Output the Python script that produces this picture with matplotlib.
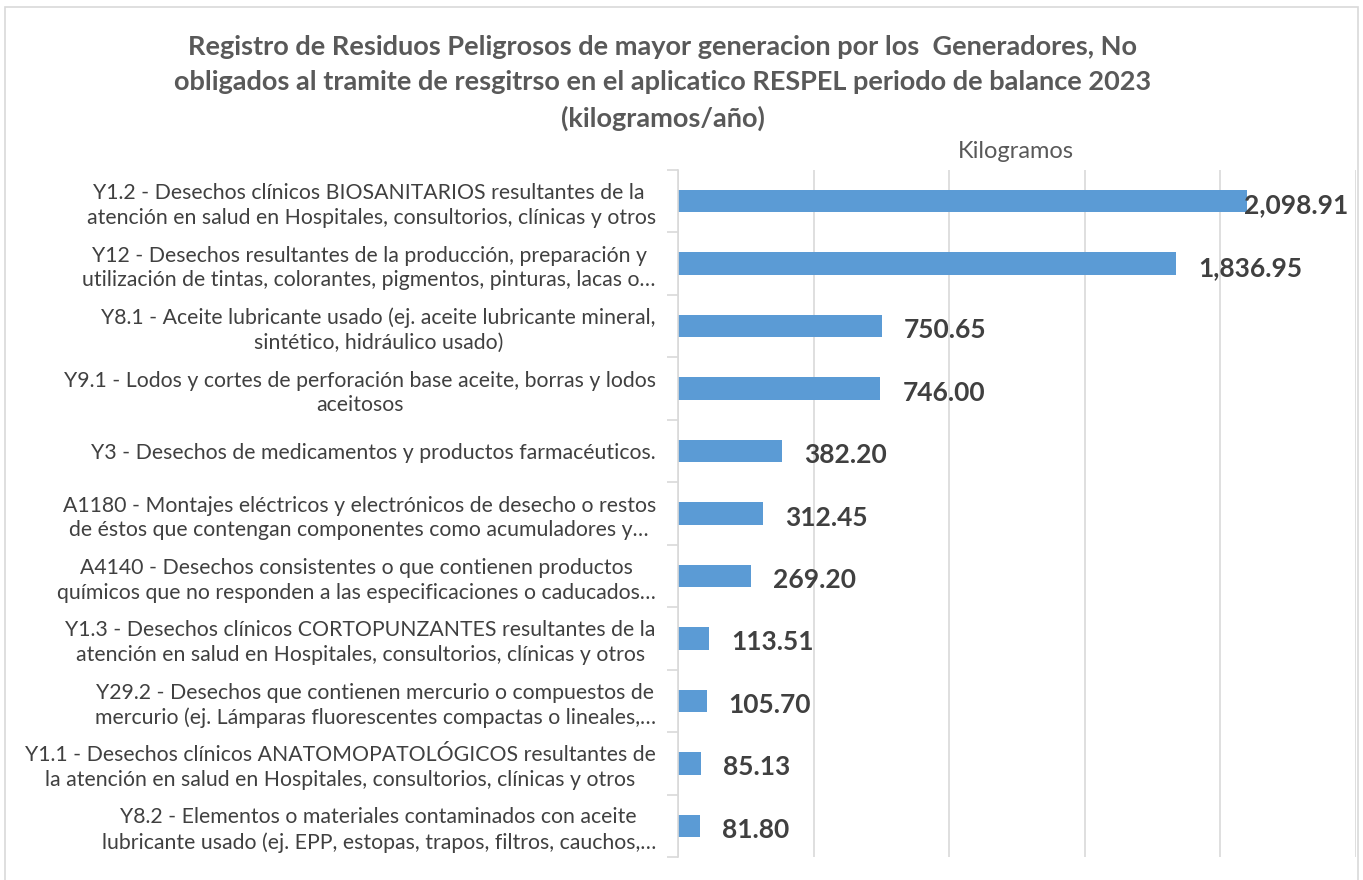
import matplotlib.pyplot as plt
from matplotlib.patches import Rectangle

# data (top to bottom)
categories = [
    "Y1.2 - Desechos clínicos BIOSANITARIOS resultantes de la \natención en salud en Hospitales, consultorios, clínicas y otros",
    "Y12 - Desechos resultantes de la producción, preparación y\nutilización de tintas, colorantes, pigmentos, pinturas, lacas o…",
    "Y8.1 - Aceite lubricante usado (ej. aceite lubricante mineral,\nsintético, hidráulico usado)",
    "Y9.1 - Lodos y cortes de perforación base aceite, borras y lodos\naceitosos",
    "Y3 - Desechos de medicamentos y productos farmacéuticos.",
    "A1180 - Montajes eléctricos y electrónicos de desecho o restos\nde éstos que contengan componentes como acumuladores y…",
    "A4140 - Desechos consistentes o que contienen productos\nquímicos que no responden a las especificaciones o caducados…",
    "Y1.3 - Desechos clínicos CORTOPUNZANTES resultantes de la\natención en salud en Hospitales, consultorios, clínicas y otros",
    "Y29.2 - Desechos que contienen mercurio o compuestos de\nmercurio (ej. Lámparas fluorescentes compactas o lineales,…",
    "Y1.1 - Desechos clínicos ANATOMOPATOLÓGICOS resultantes de\nla atención en salud en Hospitales, consultorios, clínicas y otros",
    "Y8.2 - Elementos o materiales contaminados con aceite\nlubricante usado (ej. EPP, estopas, trapos, filtros, cauchos,…",
]
kilogramos = [2098.91, 1836.95, 750.65, 746.00, 382.20, 312.45, 269.20, 113.51, 105.70, 85.13, 81.80]

title_lines = [
    "Registro de Residuos Peligrosos de mayor generacion por los  Generadores, No",
    "obligados al tramite de resgitrso en el aplicatico RESPEL periodo de balance 2023",
    "(kilogramos/año)",
]

plt.rcParams['font.family'] = ['Lato', 'DejaVu Sans']

W, H = 1363, 880
fig = plt.figure(figsize=(W / 100, H / 100), dpi=100)

# chart border like the Excel chart area
fig.patches.append(Rectangle((5 / W, -0.05), 1353 / W, 1 - 7 / H + 0.05,
                             transform=fig.transFigure, fill=False,
                             edgecolor='#D9D9D9', linewidth=1.2))

ax = fig.add_axes([678 / W, 23 / H, 678 / W, 687 / H])

ypos = list(range(len(kilogramos)))
ax.barh(ypos, kilogramos, height=0.36, color='#5B9BD5', zorder=2)
ax.set_ylim(len(kilogramos) - 0.5, -0.5)
ax.set_xlim(0, 2500)

ax.set_xticks([0, 500, 1000, 1500, 2000, 2500])
ax.grid(axis='x', color='#D9D9D9', linewidth=1.2, zorder=0)
ax.tick_params(axis='x', length=0, labelbottom=False)

ax.set_yticks(ypos)
ax.set_yticklabels(categories, fontsize=15.3, color='#404040', multialignment='center',
                   linespacing=1.3)
ax.tick_params(axis='y', which='major', length=0, pad=16)
ax.set_yticks([y + 0.5 for y in ypos[:-1]] + [-0.5, len(kilogramos) - 0.5], minor=True)
ax.tick_params(axis='y', which='minor', length=8, color='#D9D9D9', width=1.2)

for s in ['top', 'right', 'bottom']:
    ax.spines[s].set_visible(False)
ax.spines['left'].set_color('#D9D9D9')
ax.spines['left'].set_linewidth(1.2)

for y, v in zip(ypos, kilogramos):
    off = 22 if v < 0.8 * 2500 else -3
    ax.annotate(f"{v:,.2f}", (v, y), xytext=(off, -4), textcoords='offset pixels',
                ha='left', va='center', fontsize=19, fontweight='bold', color='#404040')

fig.text(1016 / W, 1 - 152 / H, "Kilogramos", ha='center', va='center',
         fontsize=17, color='#595959')

for i, line in enumerate(title_lines):
    fig.text(663 / W, 1 - (47 + 35.5 * i) / H, line, ha='center', va='center',
             fontsize=19.5, fontweight='bold', color='#595959')

fig.savefig('out.png', dpi=100)
